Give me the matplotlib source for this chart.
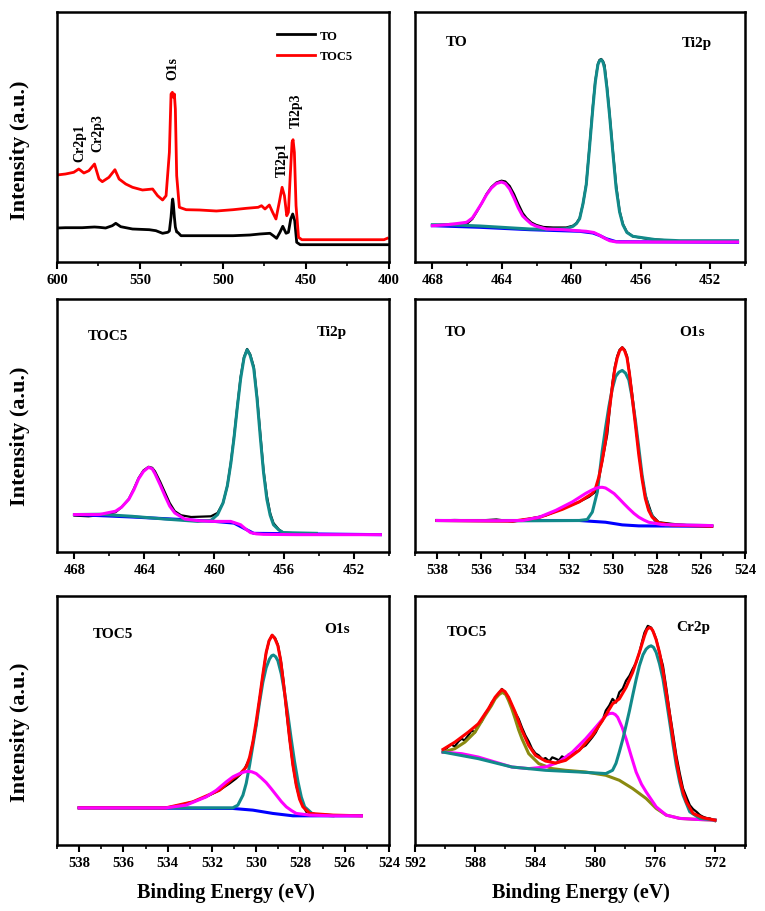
import matplotlib
matplotlib.use("Agg")
import matplotlib.pyplot as plt
from matplotlib.ticker import MultipleLocator

plt.rcParams['font.family'] = ['Liberation Serif', 'DejaVu Serif']
plt.rcParams['font.weight'] = 'bold'

W, H = 765, 912

# ---------------- Panel 1: survey spectra ----------------
p1_to_be = [600, 594.9, 589.9, 584.8, 580.8, 577.4, 574.7, 570.7, 566.7, 564.6, 561.6, 554.5, 544.4,
            540.4, 536.4, 533.3, 532.3, 531.3, 530.6, 530.3, 529.9, 529.3, 528.7, 527.9, 527.3, 525.3,
            514.1, 504, 493.9, 483.8, 477.8, 471.7, 469.7, 467.7, 465.7, 464.0, 462.0, 460.6, 459.2,
            458.0, 456.8, 455.6, 453.5, 433.3, 400]
p1_to_i = [34, 34.3, 34.3, 34.3, 34.7, 35, 34.7, 34, 36.3, 38.7, 35.3, 33, 32.3,
           31.3, 28.7, 29.7, 31, 45, 60, 63, 58, 45, 35, 30, 29.7, 26.3,
           26.3, 26.3, 26.3, 27, 28, 28.7, 26.3, 23.7, 29.7, 35.7, 28.7, 29.7, 43,
           48, 41.3, 19.7, 17.3, 17.3, 17.3]
p1_toc5_be = [600, 594.9, 589.9, 586.9, 583.8, 580.8, 577.4, 574.7, 572.7, 568.7, 565.1, 562.6, 558.6,
              554.5, 548.5, 542.4, 539.4, 536.4, 534.3, 532.3, 531.3, 530.5, 529.9, 529.3, 528.7,
              527.9, 526.3, 522.2, 514.1, 504, 493.9, 485.9, 478.8, 476.8, 474.7, 472.1, 470.1,
              468.1, 466.1, 464.4, 463.0, 461.6, 460.6, 459.6, 458.4, 457.8, 457.0, 456.0, 454.5,
              452.5, 433.3, 403, 401]
p1_toc5_i = [87, 88, 89.7, 93, 89, 91.3, 98, 83, 80.3, 84.7, 92.3, 83, 78,
             74.7, 72, 73, 66.3, 62, 66.3, 109.7, 168, 169.7, 164.7, 168, 153,
             86.3, 54.7, 52.3, 52, 51, 52.3, 53.7, 54.7, 56.3, 53, 57, 49.7,
             43, 59.7, 74.7, 66.3, 46.3, 49.7, 83, 119.7, 122.3, 109.7, 56.3, 24.7,
             22.3, 22.3, 22.3, 23.7]
p1_labels = ["TO", "TOC5"]
p1_peaks = ["Cr2p1", "Cr2p3", "O1s", "Ti2p1", "Ti2p3"]

# ---------------- Panel 2: TO Ti2p ----------------
p2_raw_be = [468, 467.0, 466.03, 465.7, 465.45, 465.15, 464.88, 464.6, 464.31, 464.02, 463.8, 463.55,
             463.3, 463.05, 462.8, 462.58, 462.3, 462.01, 461.6, 461.05, 460.29, 459.90, 459.7, 459.52,
             459.33, 459.14, 458.95, 458.76, 458.62, 458.47, 458.38, 458.28, 458.18, 458.09, 457.95,
             457.80, 457.6, 457.42, 457.22, 457.03, 456.8, 456.46, 455.69, 454.74]
p2_raw_i = [36.3, 38, 38, 43, 50, 59, 68, 75, 79.5, 81.3, 80.5, 76,
            68, 58, 49, 44, 39.5, 37, 35, 34.5, 34.5, 36.3, 39, 44,
            58, 78, 116, 156, 181, 198, 202, 203, 201, 197, 176,
            149, 110, 77, 51, 38, 30, 25.7, 23.3, 22]
p2_ti3_be = [468, 467.18, 465.26, 463.35, 462.39, 461.44, 460.29, 459.90, 459.7, 459.52, 459.33,
             459.14, 458.95, 458.76, 458.62, 458.47, 458.38, 458.28, 458.18, 458.09, 457.95, 457.80,
             457.6, 457.42, 457.22, 457.03, 456.8, 456.46, 455.12, 453.78, 450.43]
p2_ti3_i = [37.3, 37.3, 36, 34, 33, 32.7, 33.3, 35.7, 38.5, 43.3, 58,
            77.3, 115, 154, 180, 197.3, 201, 202.3, 200, 194, 174, 147.3,
            108, 74, 50, 37.3, 29.5, 25.7, 22.3, 21.3, 21.3]
p2_ti1_be = [468, 467.0, 466.03, 465.7, 465.45, 465.15, 464.88, 464.6, 464.31, 464.02, 463.8, 463.55,
             463.3, 463.05, 462.8, 462.58, 462.3, 462.01, 461.44, 460.48, 459.14, 458.7, 458.37,
             458.05, 457.80, 457.5, 457.22, 455.69, 450.43]
p2_ti1_i = [36.3, 37.5, 39.7, 44, 50.7, 59, 67.3, 74, 78.5, 80, 78.5, 73,
            64, 54, 46, 42.3, 38, 35.7, 33, 32.3, 30.7, 29.5, 26.7,
            23.5, 21.3, 20.3, 20, 20, 20]
p2_bg_be = [468, 465.26, 462.39, 459.52, 458.76, 458.37, 457.99, 457.42, 450.43]
p2_bg_i = [36.3, 34.7, 32.3, 30.7, 29, 26.5, 23.3, 20.3, 19.7]

# ---------------- Panel 3: TOC5 Ti2p ----------------
p3_raw_be = [468, 467.2, 466.59, 465.65, 465.3, 464.89, 464.6, 464.33, 464.05, 463.76, 463.55, 463.39,
             463.1, 462.82, 462.55, 462.26, 461.9, 461.32, 460.19, 459.81, 459.5, 459.25, 459.05,
             458.87, 458.68, 458.49, 458.3, 458.12, 457.95, 457.74, 457.55, 457.36, 457.18, 456.99,
             456.8, 456.61, 456.3, 456.05, 455.29, 454.16]
p3_raw_i = [35.7, 35, 36, 39, 44, 52, 62, 72.5, 80, 83.5, 82.5, 79,
            69, 58.3, 48, 40, 36, 34.3, 35, 38.3, 48, 65, 88,
            113, 143, 171.7, 191, 199, 194, 181.7, 152, 115, 80, 55,
            38, 28.3, 22, 19, 18.3, 18.3]
p3_ti3_be = [468, 466.59, 464.71, 462.82, 460.94, 460.19, 459.81, 459.5, 459.25, 459.05, 458.87,
             458.68, 458.49, 458.3, 458.12, 457.95, 457.74, 457.55, 457.36, 457.18, 456.99, 456.8,
             456.61, 456.3, 456.05, 454.16]
p3_ti3_i = [36.7, 37, 35, 32.3, 30, 31, 36.7, 48, 65, 87, 111.7,
            142, 170, 190, 198.3, 193, 180, 150, 111.7, 78, 51.7, 36,
            26.7, 21.5, 19, 18.3]
p3_ti1_be = [468, 466.59, 465.65, 465.3, 464.89, 464.6, 464.33, 464.05, 463.76, 463.55, 463.39,
             463.1, 462.82, 462.55, 462.26, 461.69, 460.94, 460.0, 459.06, 458.49, 458.2, 457.93,
             457.6, 457.18, 455.29, 450.49]
p3_ti1_i = [36.7, 36.7, 40, 44, 51.7, 61, 71.7, 79, 83, 81.5, 76.7,
            66, 55, 45, 38.3, 32.3, 30.7, 30, 30, 26.7, 22.5, 19,
            17.8, 17.3, 17, 17]
p3_bg_be = [468, 464.71, 461.69, 460.0, 458.87, 458.31, 457.74, 450.49]
p3_bg_i = [36.7, 34.3, 31.7, 30, 28.3, 23.3, 18.3, 17]

# ---------------- Panel 4: TO O1s ----------------
p4_raw_be = [538, 537.2, 536.07, 535.3, 534.56, 533.81, 533.05, 532.3, 531.54, 531.09, 530.79,
             530.64, 530.49, 530.26, 530.03, 529.92, 529.81, 529.7, 529.58, 529.47, 529.36, 529.25,
             529.13, 528.98, 528.83, 528.68, 528.53, 528.22, 527.92, 527.32, 526.41, 525.51]
p4_raw_i = [31, 31.5, 31, 32, 30, 32.7, 36, 42.7, 49.3, 54.3, 59.3,
            72.7, 89.3, 116, 166, 182, 192.7, 199, 201.5, 199, 192.7, 176,
            156, 127, 99.3, 74, 56, 36, 29.3, 27.7, 26, 25.3]
p4_fit_be = [538, 534.56, 533.35, 532.3, 531.54, 530.94, 530.79, 530.64, 530.49, 530.34, 530.19,
             530.03, 529.92, 529.81, 529.7, 529.58, 529.47, 529.36, 529.25, 529.13, 528.98, 528.83,
             528.68, 528.53, 528.38, 528.22, 527.92, 527.32, 525.51]
p4_fit_i = [31, 30.3, 34, 42, 49.3, 57.7, 63, 74, 90, 109.3, 136,
            162.7, 180, 191, 198, 201, 198, 191, 175, 152.7, 125, 96,
            72, 52.7, 41, 34.3, 28.7, 26.5, 25.3]
p4_lat_be = [538, 534.56, 531.54, 531.17, 530.94, 530.71, 530.49, 530.34, 530.19, 530.04, 529.88,
             529.73, 529.58, 529.43, 529.28, 529.13, 528.98, 528.83, 528.68, 528.53, 528.38, 528.07,
             527.62, 525.51]
p4_lat_i = [31, 30.7, 31, 32, 39.3, 59.3, 99.3, 122, 142.7, 160, 172.7,
            177, 178.7, 176, 169.3, 152, 129.3, 103, 76, 56, 42.7, 30,
            26.7, 26]
p4_oh_be = [538, 535.31, 534.11, 533.35, 532.6, 531.85, 531.24, 531.0, 530.79, 530.64, 530.49,
            530.34, 530.19, 529.95, 529.73, 529.5, 529.28, 529.05, 528.83, 528.6, 528.38, 527.77,
            525.51]
p4_oh_i = [31, 30.7, 31, 34.3, 41, 49.3, 57.7, 60.5, 62.7, 63.5, 63.7,
           63, 61, 57.5, 52.7, 47.5, 42.7, 38, 34.3, 31.5, 29.3, 27,
           26]
p4_bg_be = [538, 531.54, 530.34, 529.58, 528.83, 525.51]
p4_bg_i = [31, 31, 29.3, 26.7, 25.7, 25.3]

# ---------------- Panel 5: TOC5 O1s ----------------
p5_raw_be = [538, 534.08, 533.47, 532.87, 532.26, 531.66, 531.21, 530.91, 530.6, 530.3, 530.0,
             529.85, 529.7, 529.55, 529.42, 529.28, 529.15, 529.02, 528.87, 528.75, 528.64, 528.49,
             528.34, 528.19, 528.04, 527.74, 527.28, 526.53, 525.25]
p5_raw_i = [37.3, 37.3, 40, 43.3, 48.3, 55, 61.7, 66.7, 73.3, 86.7, 120,
            146, 170, 193, 205, 210.7, 208, 201, 183, 162, 135, 106,
            80, 60, 46.7, 33.3, 30.7, 30, 29.3]
p5_fit_be = [538, 534.08, 532.87, 531.66, 531.06, 530.75, 530.45, 530.3, 530.15, 530.0, 529.85,
             529.7, 529.55, 529.42, 529.28, 529.15, 529.02, 528.9, 528.79, 528.64, 528.49, 528.34,
             528.19, 528.04, 527.89, 527.58, 526.53, 525.25]
p5_fit_i = [37.3, 37.3, 43.3, 55, 66.7, 71, 78.3, 88, 103.3, 124, 146.7,
            171, 193.3, 205, 210.7, 207, 200, 186, 166.7, 138, 106.7, 80,
            60, 46, 38.3, 31.7, 30, 29.3]
p5_lat_be = [538, 534.08, 531.06, 530.83, 530.6, 530.45, 530.3, 530.15, 530.0, 529.85, 529.7,
             529.55, 529.4, 529.3, 529.22, 529.12, 529.02, 528.87, 528.72, 528.57, 528.42, 528.27,
             528.11, 527.96, 527.81, 527.43, 526.53]
p5_lat_i = [37.3, 37.3, 37.3, 40, 50, 62, 80, 100, 120, 143, 163.3,
            178, 186.7, 190, 190.7, 189, 185, 172, 153.3, 131, 106.7, 84,
            63.3, 48, 38.3, 30.7, 29.3]
p5_oh_be = [538, 534.08, 533.17, 532.26, 531.8, 531.36, 531.05, 530.75, 530.55, 530.38, 530.2,
            530.0, 529.78, 529.55, 529.32, 529.09, 528.86, 528.64, 528.4, 528.19, 527.58, 526.53,
            525.25]
p5_oh_i = [37.3, 37.3, 40, 48.3, 55, 63.3, 68.5, 71.7, 73.3, 74, 73.5,
           71.7, 67.5, 62.7, 56.5, 50, 43.5, 38.3, 34.5, 31.7, 30, 29.3,
           29.3]
p5_bg_be = [538, 531.06, 530.15, 529.25, 528.34, 525.25]
p5_bg_i = [37.3, 36.7, 35, 31.7, 29.3, 29.3]

# ---------------- Panel 6: TOC5 Cr2p ----------------
p6_raw_be = [590.13, 589.9, 589.6, 589.35, 589.1, 588.9, 588.7, 588.45, 588.22, 588.0, 587.78,
             587.55, 587.33, 587.1, 586.88, 586.66, 586.43, 586.21, 586.0, 585.76, 585.54, 585.32,
             585.09, 584.87, 584.64, 584.42, 584.2, 583.97, 583.75, 583.5, 583.3, 583.05, 582.85,
             582.63, 582.4, 582.2, 581.96, 581.75, 581.51, 581.3, 581.06, 580.85, 580.62, 580.4,
             580.17, 579.95, 579.72, 579.5, 579.28, 579.05, 578.83, 578.6, 578.38, 578.15, 577.93,
             577.7, 577.49, 577.26, 577.04, 576.85, 576.7, 576.48, 576.26, 576.05, 575.92, 575.7,
             575.47, 575.25, 575.02, 574.8, 574.58, 574.35, 574.13, 573.9, 573.68, 573.46, 573.23,
             573.0, 572.79, 572.55, 572.34, 572.0]
p6_raw_i = [95, 97, 101, 99, 104, 106.7, 105, 110, 115, 113, 121.7,
            124, 131.7, 136, 143.3, 147, 151.7, 156.7, 153.3, 148, 140, 133,
            126.7, 118, 110, 104, 96.7, 92, 90, 86, 87.3, 84, 88,
            86.7, 85, 89, 87, 91, 91.7, 93, 95, 98, 100, 104,
            108.3, 113, 120, 125, 135, 140, 146.7, 143, 153.3, 157, 165,
            170, 176.7, 183, 193.3, 205, 213.3, 220, 218.3, 212, 206.7, 193,
            180, 158, 133.3, 112, 90, 72, 56.7, 48, 40, 36, 33.3,
            30, 28.3, 27, 26.7, 24]
p6_fit_be = [590.13, 589.34, 588.45, 587.78, 587.11, 586.66, 586.4, 586.21, 586.0, 585.76, 585.32,
             584.87, 584.42, 583.97, 583.3, 582.63, 581.96, 581.06, 580.17, 579.5, 578.83, 578.38,
             577.93, 577.49, 577.04, 576.7, 576.55, 576.41, 576.25, 576.14, 575.92, 575.7, 575.47,
             575.25, 575.02, 574.8, 574.58, 574.35, 574.13, 573.91, 573.46, 572.79, 572.0]
p6_fit_i = [96, 103.3, 113.3, 121.7, 136.7, 148.3, 153, 156, 154, 148.3, 133.3,
            115, 100, 90, 84.3, 82.3, 85, 95, 110, 125, 141.7, 146.7,
            158.3, 173.3, 193.3, 210, 216, 218.3, 217.5, 215, 206, 193.3, 175,
            153.3, 130, 106.7, 85, 66.7, 53, 43.3, 31.7, 27.3, 25]
p6_cr1_be = [590.13, 589.34, 588.67, 588.0, 587.33, 586.9, 586.66, 586.4, 586.17, 585.95, 585.76,
             585.55, 585.32, 585.1, 584.87, 584.42, 583.75, 582.85, 581.96, 580.62, 579.28, 578.38,
             577.49, 576.59, 575.92, 575.25, 574.35, 573.23, 572.0]
p6_cr1_i = [93.3, 96.7, 103.3, 113.3, 130, 140, 146.7, 151, 153.3, 151, 145,
            137, 126.7, 116, 106.7, 91.7, 81.7, 76.7, 75, 73.3, 70, 65,
            56.7, 46.7, 36.7, 30, 26.7, 25.7, 25]
p6_cr2_be = [590.13, 588.89, 587.78, 586.66, 585.54, 584.42, 583.3, 582.41, 581.51, 580.62, 579.95,
             579.6, 579.28, 579.05, 578.83, 578.65, 578.49, 578.2, 577.93, 577.6, 577.26, 576.9,
             576.59, 575.92, 575.25, 574.35, 573.23, 572.0]
p6_cr2_i = [93.3, 91.7, 88.3, 83.3, 78.3, 76.7, 78.3, 83.3, 93.3, 106.7, 118.3,
            124.5, 130, 132, 132.3, 131, 128.3, 118.5, 106.7, 90, 73.3, 61,
            53.3, 38.3, 30, 26.7, 25.7, 25]
p6_cr3_be = [590.13, 587.78, 585.54, 583.3, 581.06, 579.28, 578.83, 578.6, 578.38, 578.15, 577.93,
             577.7, 577.49, 577.26, 577.04, 576.8, 576.59, 576.42, 576.26, 576.1, 575.92, 575.7,
             575.47, 575.25, 575.02, 574.8, 574.58, 574.35, 574.13, 573.68, 573.01, 572.0]
p6_cr3_i = [93.3, 86.7, 78.3, 75, 73.3, 71.7, 75, 82, 93.3, 106, 120,
            135, 150, 166, 180, 191, 196.7, 199, 200, 198.5, 193.3, 182,
            166.7, 146, 123.3, 101, 80, 63, 50, 33.3, 26.7, 25]

TEAL = '#128a8a'
MAG = '#ff00ff'
RED = '#ff0000'
BLUE = '#0000ff'
OLIVE = '#8a8a10'

fig = plt.figure(figsize=(W / 100, H / 100), dpi=100)


def add_ax(x0, y0, x1, y1):
    return fig.add_axes([x0 / W, 1 - y1 / H, (x1 - x0) / W, (y1 - y0) / H])


def style(ax, xlim, ylim, major, minor):
    ax.set_xlim(*xlim)
    ax.set_ylim(*ylim)
    ax.xaxis.set_major_locator(MultipleLocator(major))
    ax.xaxis.set_minor_locator(MultipleLocator(minor))
    ax.tick_params(axis='x', which='major', direction='out', length=5, width=1.5,
                   labelsize=10.5, pad=3, top=False)
    ax.tick_params(axis='x', which='minor', direction='out', length=3, width=1.2, top=False)
    ax.tick_params(axis='y', which='both', left=False, right=False, labelleft=False)
    for lab in ax.get_xticklabels():
        lab.set_fontweight('bold')
    for s in ax.spines.values():
        s.set_linewidth(1.8)


def ftext(x, y, s, size, rot=0, ha='center', va='center'):
    fig.text(x / W, 1 - y / H, s, fontsize=size, fontweight='bold', rotation=rot, ha=ha, va=va)


RAW = dict(color='black', lw=1.6, solid_joinstyle='round')
FIT = dict(lw=2.2, solid_joinstyle='round')

# Panel 1
ax1 = add_ax(57, 13, 389, 263)
ax1.plot(p1_to_be, p1_to_i, color='black', lw=2, label=p1_labels[0])
ax1.plot(p1_toc5_be, p1_toc5_i, color=RED, lw=2, label=p1_labels[1])
style(ax1, (600, 400), (0, 250), 50, 25)
ax1.legend(loc='upper left', bbox_to_anchor=(0.63, 0.975), frameon=False,
           handlelength=3.0, handletextpad=0.4, labelspacing=0.7, prop={'weight': 'bold', 'size': 9})
ftext(80, 143, p1_peaks[0], 10, rot=90)
ftext(98, 133, p1_peaks[1], 10, rot=90)
ftext(173, 68, p1_peaks[2], 10, rot=90)
ftext(282, 160, p1_peaks[3], 10, rot=90)
ftext(296, 111, p1_peaks[4], 10, rot=90)

# Panel 2
ax2 = add_ax(415, 13, 745, 263)
ax2.plot(p2_raw_be, p2_raw_i, **RAW)
ax2.plot(p2_bg_be, p2_bg_i, color=BLUE, **FIT)
ax2.plot(p2_ti3_be, p2_ti3_i, color=TEAL, **FIT)
ax2.plot(p2_ti1_be, p2_ti1_i, color=MAG, **FIT)
style(ax2, (469, 450), (0, 250), 4, 2)
ftext(457, 43, "TO", 11)
ftext(697, 43, "Ti2p", 11)

# Panel 3
ax3 = add_ax(57, 300, 389, 553)
ax3.plot(p3_raw_be, p3_raw_i, **RAW)
ax3.plot(p3_bg_be, p3_bg_i, color=BLUE, **FIT)
ax3.plot(p3_ti3_be, p3_ti3_i, color=TEAL, **FIT)
ax3.plot(p3_ti1_be, p3_ti1_i, color=MAG, **FIT)
style(ax3, (469, 450), (0, 248), 4, 2)
ftext(108, 337, "TOC5", 11)
ftext(332, 333, "Ti2p", 11)

# Panel 4
ax4 = add_ax(415, 300, 745, 553)
ax4.plot(p4_raw_be, p4_raw_i, **RAW)
ax4.plot(p4_bg_be, p4_bg_i, color=BLUE, **FIT)
ax4.plot(p4_lat_be, p4_lat_i, color=TEAL, **FIT)
ax4.plot(p4_fit_be, p4_fit_i, color=RED, **FIT)
ax4.plot(p4_oh_be, p4_oh_i, color=MAG, **FIT)
style(ax4, (539, 524), (0, 249), 2, 1)
ftext(456, 333, "TO", 11)
ftext(692, 333, "O1s", 11)

# Panel 5
ax5 = add_ax(57, 597, 389, 846)
ax5.plot(p5_raw_be, p5_raw_i, **RAW)
ax5.plot(p5_bg_be, p5_bg_i, color=BLUE, **FIT)
ax5.plot(p5_lat_be, p5_lat_i, color=TEAL, **FIT)
ax5.plot(p5_fit_be, p5_fit_i, color=RED, **FIT)
ax5.plot(p5_oh_be, p5_oh_i, color=MAG, **FIT)
style(ax5, (539, 524), (0, 250), 2, 1)
ftext(113, 635, "TOC5", 11)
ftext(337, 630, "O1s", 11)

# Panel 6
ax6 = add_ax(415, 597, 745, 846)
ax6.plot(p6_raw_be, p6_raw_i, **RAW)
ax6.plot(p6_cr1_be, p6_cr1_i, color=OLIVE, **FIT)
ax6.plot(p6_cr2_be, p6_cr2_i, color=MAG, **FIT)
ax6.plot(p6_cr3_be, p6_cr3_i, color=TEAL, **FIT)
ax6.plot(p6_fit_be, p6_fit_i, color=RED, **FIT)
style(ax6, (592, 570), (0, 250), 4, 2)
ftext(467, 632, "TOC5", 11)
ftext(693, 628, "Cr2p", 11)

# Axis titles
for yc in (150, 436, 732):
    ftext(20, yc, "Intensity (a.u.)", 16, rot=90)
ftext(226, 893, "Binding Energy (eV)", 14.5)
ftext(581, 893, "Binding Energy (eV)", 14.5)

fig.savefig("out.png", dpi=100, facecolor='white')
